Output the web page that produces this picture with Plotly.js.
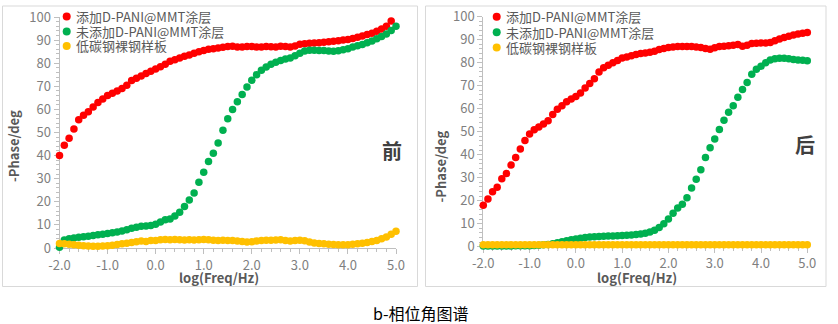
<!DOCTYPE html>
<html><head><meta charset="utf-8">
<script src="https://cdn.plot.ly/plotly-3.0.1.min.js"></script>
<style>html,body{margin:0;padding:0;background:#fff}#chart{width:838px;height:324px}</style>
</head><body><div id="chart"></div>
<script>
// ---- data ----
const logFreq = [-2.0,-1.9,-1.8,-1.7,-1.6,-1.5,-1.4,-1.3,-1.2,-1.1,
  -1.0,-0.9,-0.8,-0.7,-0.6,-0.5,-0.4,-0.3,-0.2,-0.1,
  0.0,0.1,0.2,0.3,0.4,0.5,0.6,0.7,0.8,0.9,
  1.0,1.1,1.2,1.3,1.4,1.5,1.6,1.7,1.8,1.9,
  2.0,2.1,2.2,2.3,2.4,2.5,2.6,2.7,2.8,2.9,
  3.0,3.1,3.2,3.3,3.4,3.5,3.6,3.7,3.8,3.9,
  4.0,4.1,4.2,4.3,4.4,4.5,4.6,4.7,4.8,4.9,5.0];

const seriesNames = ['添加D-PANI@MMT涂层','未添加D-PANI@MMT涂层','低碳钢裸钢样板'];
const seriesColors = ['#FF0000','#00B050','#FFC000'];

// 前 (before)
const beforeCoated = [40,44.5,47.5,51.5,55.5,57.5,59,61,63,64.5,
  66,67,68,69,70.5,72.5,73.5,74.5,75.5,76.5,
  77.5,78.5,79.5,80.8,81.5,82.3,83,83.6,84.3,85,
  85.5,86,86.3,86.6,86.9,87.2,87.3,87,87,87.2,
  87.2,87,87,87.2,87.1,87,87.3,87.2,87,87.5,
  88.2,88.4,88.6,88.7,88.9,89.1,89.3,89.5,89.7,90,
  90.3,90.7,91.2,91.8,92.4,93,93.8,94.8,96,98.3];
const beforeUncoated = [0.3,3.5,4.0,4.3,4.6,4.9,5.1,5.4,5.7,6.0,
  6.3,6.6,6.9,7.4,7.9,8.5,9.0,9.4,9.5,9.7,
  10.3,11.3,12.2,12.6,13.8,15.5,18,20.8,23.8,28.5,
  32.8,37.5,41,45.5,51,56,60,63.3,66.5,69.7,
  72.6,75,77,78.4,79.5,80.4,81.2,81.8,82.3,83.2,
  84.3,85.3,85.6,85.6,85.5,85.5,85.3,85.2,85.4,85.8,
  86.3,87,87.6,88.1,88.8,89.6,90.6,91.6,92.6,94.2,96];
const beforeBare = [2.0,1.8,1.6,1.4,1.2,1.0,0.9,0.8,0.8,0.9,
  1.0,1.2,1.5,1.8,2.1,2.4,2.7,3.0,2.8,3.2,
  3.3,3.6,3.7,3.6,3.7,3.6,3.5,3.6,3.5,3.6,
  3.7,3.6,3.4,3.3,3.4,3.3,3.2,3.0,2.8,2.6,
  2.7,3.0,3.3,3.4,3.4,3.5,3.6,3.3,3.0,3.2,
  3.4,3.1,2.6,2.2,2.0,1.8,1.6,1.5,1.4,1.4,
  1.4,1.6,1.8,2.1,2.4,2.8,3.3,4.0,4.8,5.9,7.2];

// 后 (after)
const afterCoated = [18,20.7,23.9,25.8,29.5,31.8,35.5,38.8,42.5,46.2,
  49,50.8,52,53.3,54.8,57.5,59.8,61.3,63,64.2,
  65.3,66.8,69,71,73,76,77.8,78.9,80,81,
  82,82.5,83,83.6,84,84.2,84.5,85,85.7,86.2,
  86.6,86.8,87,87,87,87,86.8,86.6,86.2,85.9,
  86.5,87,87.2,87.4,87.6,87.9,87.2,87.6,88.3,88.5,
  88.6,88.6,88.8,89.5,90.3,91,91.5,92,92.5,92.8,93.1];
const afterUncoated = [0.3,0.3,0.3,0.3,0.3,0.3,0.3,0.4,0.4,0.4,
  0.4,0.5,0.6,0.8,1.0,1.3,1.7,2.1,2.6,3.0,
  3.4,3.7,4.0,4.2,4.3,4.4,4.5,4.6,4.7,4.8,
  4.9,5.0,5.1,5.3,5.5,5.9,6.4,7.2,8.3,10.0,
  12.0,14.5,16.8,18.5,21.3,25.5,29.3,33.5,38.8,43,
  46.8,51,55,58.5,61.3,65,68.3,71.4,75,77.2,
  78.5,80,81.2,81.7,81.9,81.9,81.7,81.4,81.2,81.1,80.9];
const afterBare = [0.9,0.9,0.9,0.9,0.9,0.9,0.9,0.9,0.9,0.9,
  0.9,0.9,0.9,0.9,0.9,0.9,0.9,0.9,0.9,0.9,
  0.9,0.9,0.9,0.9,0.9,0.9,0.9,0.9,0.9,0.9,
  0.9,0.9,0.9,0.9,0.9,0.9,0.9,0.9,0.9,0.9,
  0.9,0.9,0.9,0.9,0.9,0.9,0.9,0.9,0.9,0.9,
  0.9,0.9,0.9,0.9,0.9,0.9,0.9,0.9,0.9,0.9,
  0.9,0.9,0.9,0.9,0.9,0.9,0.9,0.9,0.9,0.9,0.9];

const xTickVals = [-2,-1,0,1,2,3,4,5];
const xTickText = ['-2.0','-1.0','0.0','1.0','2.0','3.0','4.0','5.0'];
const yTickVals = [0,10,20,30,40,50,60,70,80,90,100];
const yTickText = ['0','10','20','30','40','50','60','70','80','90','100'];

const panelTags = ['前','后'];
const xTitle = 'log(Freq/Hz)';
const yTitle = '-Phase/deg';
const caption = 'b-相位角图谱';

// ---- layout helpers ----
const W = 838, H = 324;
const px = x => x / W;
const py = y => 1 - y / H;
const FONT = '"Noto Sans CJK SC", "Noto Sans", sans-serif';

const panels = [
  {xa:'x', ya:'y', xL:59.5, xR:396, yT:17, yB:248,
   data:[beforeCoated, beforeUncoated, beforeBare],
   box:[2.5,6,417.5,286.5], ytitle:[13.5,146.5], xtitle:[219,277.5], tag:[392,150],
   leg:{mx:66.7, tx:75, ys:[16.5,31.5,46]}},
  {xa:'x2', ya:'y2', xL:483.3, xR:807.3, yT:16.7, yB:246.7,
   data:[afterCoated, afterUncoated, afterBare],
   box:[425.5,6,826,286.5], ytitle:[440,166.5], xtitle:[637,277.5], tag:[805,144],
   leg:{mx:496.7, tx:505, ys:[16.7,32.3,47.5]}}
];

const traces = [];
panels.forEach((p) => {
  p.data.forEach((vals, k) => {
    traces.push({
      type:'scatter', mode:'markers',
      x: logFreq.slice(0, vals.length), y: vals,
      xaxis: p.xa, yaxis: p.ya, name: seriesNames[k],
      marker:{color: seriesColors[k], size:7.5},
      cliponaxis:false, showlegend:false, hoverinfo:'skip'
    });
  });
});

const common = {
  showgrid:false, zeroline:false, showline:true, linecolor:'#bfbfbf', linewidth:1,
  ticks:'outside', ticklen:5, tickcolor:'#bfbfbf', tickwidth:1, layer:'below traces',
  tickfont:{family:FONT, size:13, color:'#7f7f7f'}, automargin:false, fixedrange:true
};

const layout = {
  width:W, height:H, margin:{l:0,r:0,t:0,b:0},
  paper_bgcolor:'#ffffff', plot_bgcolor:'rgba(0,0,0,0)',
  showlegend:false, font:{family:FONT},
  shapes:[], annotations:[]
};

panels.forEach((p, i) => {
  const sx = i === 0 ? '' : '2';
  layout['xaxis' + sx] = Object.assign({}, common, {
    domain:[px(p.xL), px(p.xR)], range:[-2,5], anchor:p.ya,
    tickmode:'array', tickvals:xTickVals, ticktext:xTickText,
    minor:{tickmode:'linear', tick0:-2, dtick:0.2, ticks:'outside', ticklen:3, tickcolor:'#bfbfbf'}
  });
  layout['yaxis' + sx] = Object.assign({}, common, {
    domain:[py(p.yB), py(p.yT)], range:[0,100], anchor:p.xa,
    tickmode:'array', tickvals:yTickVals, ticktext:yTickText,
    minor:{tickmode:'linear', tick0:0, dtick:2, ticks:'outside', ticklen:3, tickcolor:'#bfbfbf'}
  });
  // panel frame
  layout.shapes.push({type:'rect', xref:'paper', yref:'paper',
    x0:px(p.box[0]), x1:px(p.box[2]), y0:py(p.box[3]), y1:py(p.box[1]),
    line:{color:'#d9d9d9', width:1}, fillcolor:'rgba(0,0,0,0)', layer:'below'});
  // axis titles
  layout.annotations.push({xref:'paper', yref:'paper', x:px(p.ytitle[0]), y:py(p.ytitle[1]),
    text:yTitle, textangle:-90, showarrow:false, xanchor:'center', yanchor:'middle',
    font:{family:FONT, size:13, color:'#595959', weight:'bold'}});
  layout.annotations.push({xref:'paper', yref:'paper', x:px(p.xtitle[0]), y:py(p.xtitle[1]),
    text:xTitle, showarrow:false, xanchor:'center', yanchor:'middle',
    font:{family:FONT, size:13, color:'#595959', weight:'bold'}});
  // panel tag
  layout.annotations.push({xref:'paper', yref:'paper', x:px(p.tag[0]), y:py(p.tag[1]),
    text:panelTags[i], showarrow:false, xanchor:'center', yanchor:'middle',
    font:{family:FONT, size:20, color:'#404040', weight:'bold'}});
  // legend
  seriesNames.forEach((nm, k) => {
    const cy = p.leg.ys[k], r = 4;
    layout.shapes.push({type:'circle', xref:'paper', yref:'paper',
      x0:px(p.leg.mx - r), x1:px(p.leg.mx + r), y0:py(cy + r), y1:py(cy - r),
      fillcolor:seriesColors[k], line:{width:0}});
    layout.annotations.push({xref:'paper', yref:'paper', x:px(p.leg.tx), y:py(cy),
      text:nm, showarrow:false, xanchor:'left', yanchor:'middle', borderpad:0,
      font:{family:FONT, size:13, color:'#595959'}});
  });
});

layout.annotations.push({xref:'paper', yref:'paper', x:px(421), y:py(312.5),
  text:caption, showarrow:false, xanchor:'center', yanchor:'middle', borderpad:0,
  font:{family:FONT, size:16, color:'#000000'}});

Plotly.newPlot('chart', traces, layout, {staticPlot:true, displayModeBar:false});
</script></body></html>
